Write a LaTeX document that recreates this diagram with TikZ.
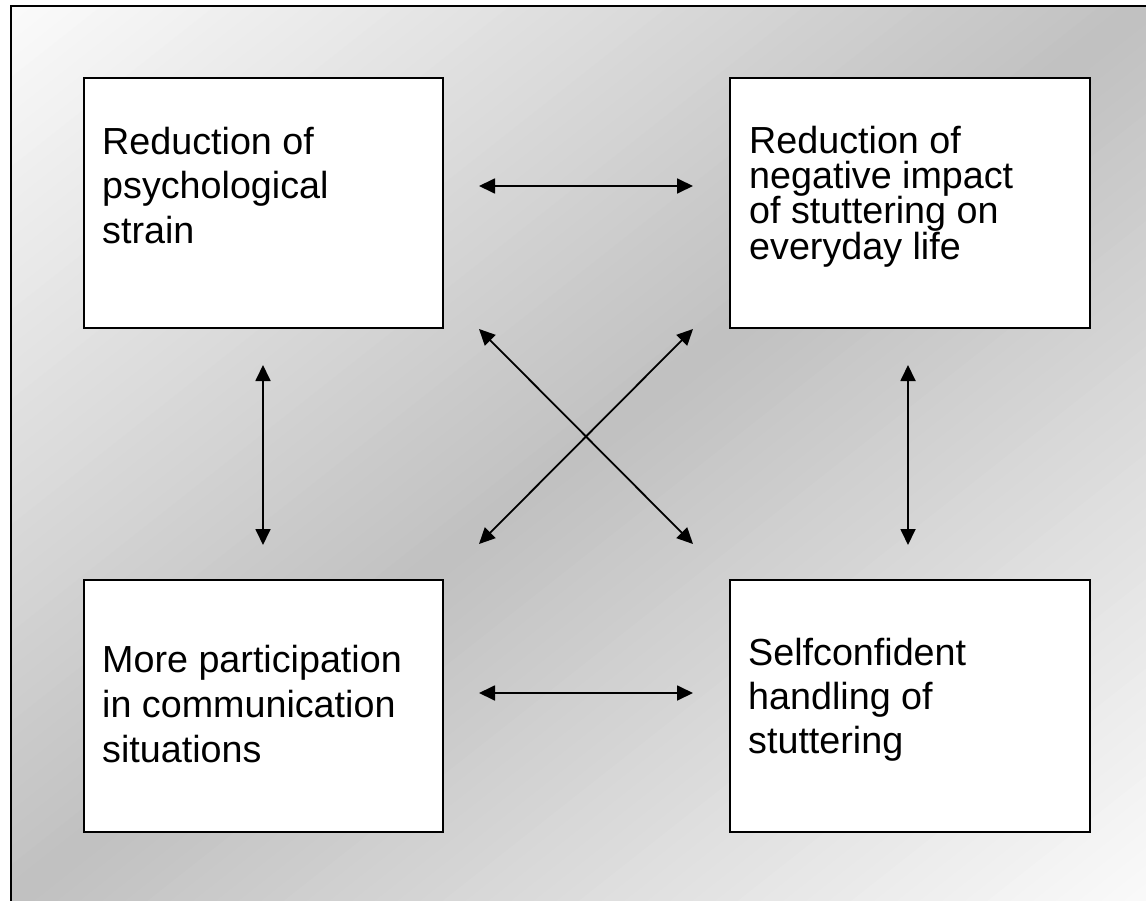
\documentclass[tikz,border=0pt]{standalone}
\usepackage{fontspec}
\setmainfont{Liberation Sans}
\usetikzlibrary{arrows.meta}
\definecolor{bggray}{RGB}{192,192,192}
\definecolor{bglight}{RGB}{250,250,250}
\tikzset{
  box/.style={draw=black, line width=2pt, fill=white, inner sep=0pt},
  boxtext/.style={anchor=north west, inner sep=0pt, align=left},
  link/.style={line width=1.8pt, {Triangle[length=16pt,width=15pt]}-{Triangle[length=16pt,width=15pt]}},
  frameline/.style={line width=2pt, line cap=rect}
}
\begin{document}
\begin{tikzpicture}[x=1pt,y=-1pt]
\useasboundingbox (0,0) rectangle (1146,901);
% gradient background
\begin{scope}
\clip (11,6) rectangle (1146,901);
\foreach \i in {0,...,99}{
  \pgfmathsetmacro\ta{\i/50}
  \pgfmathsetmacro\tb{(\i+1)/50+0.004}
  \pgfmathtruncatemacro\f{100*(1-abs((\i+0.5)/50-1))}
  \fill[bggray!\f!bglight] ({11+\ta*1135},6) -- ({11+\tb*1135},6) -- (11,{6+\tb*895}) -- (11,{6+\ta*895}) -- cycle;
}
\end{scope}
\coordinate (fbl) at (11,901);
\coordinate (ftl) at (11,6);
\coordinate (ftr) at (1146,6);
\draw[frameline] (fbl) -- (ftl) -- (ftr);
% boxes
\node[box, minimum width=359pt, minimum height=250pt] (tl) at (263.5,203.5) {};
\node[box, minimum width=360pt, minimum height=250pt] (tr) at (910,203.5) {};
\node[box, minimum width=359pt, minimum height=252pt] (bl) at (263.5,706) {};
\node[box, minimum width=360pt, minimum height=252pt] (br) at (910,706) {};
% texts
\node[boxtext, font=\fontsize{37.7}{44.5}\selectfont] (tlt) at (102,126.5) {Reduction of\\psychological\\strain};
\node[boxtext, font=\fontsize{37.7}{35.4}\selectfont] (trt) at (749,125.5) {Reduction of\\negative impact\\of stuttering on\\everyday life};
\node[boxtext, font=\fontsize{37.7}{45}\selectfont] (blt) at (102,645) {More participation\\in communication\\situations};
\node[boxtext, font=\fontsize{37.7}{44}\selectfont] (brt) at (748,638) {Selfconfident\\handling of\\stuttering};
% arrow end points
\coordinate (a1) at (479,186);
\coordinate (a2) at (693,186);
\coordinate (b1) at (479,693);
\coordinate (b2) at (693,693);
\coordinate (c1) at (263,365);
\coordinate (c2) at (263,545);
\coordinate (d1) at (908,365);
\coordinate (d2) at (908,545);
\coordinate (e1) at (479,329);
\coordinate (e2) at (693,544);
\coordinate (g1) at (693,329);
\coordinate (g2) at (479,544);
\draw[link] (a1) -- (a2);
\draw[link] (b1) -- (b2);
\draw[link] (c1) -- (c2);
\draw[link] (d1) -- (d2);
\draw[link] (e1) -- (e2);
\draw[link] (g1) -- (g2);
\end{tikzpicture}
\end{document}
